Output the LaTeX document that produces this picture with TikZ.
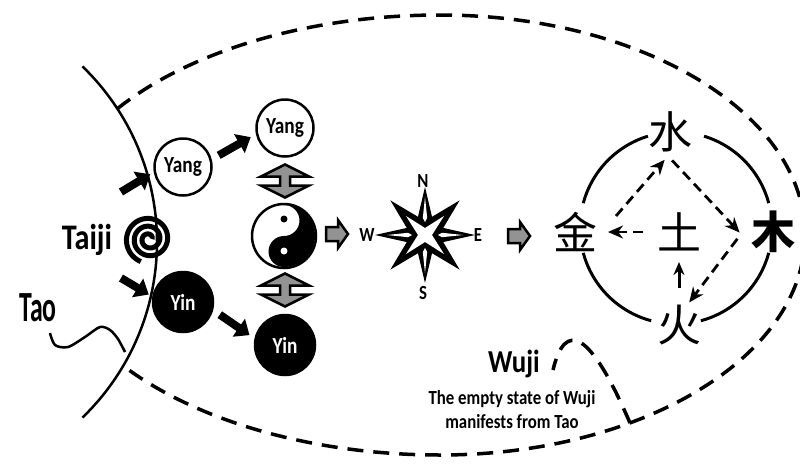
\documentclass[tikz,border=0pt]{standalone}
\usepackage{fontspec}
\usepackage{tikz}
\usetikzlibrary{arrows.meta,calc}
\newfontfamily\lbl{Carlito}[FakeStretch=0.84]
\newfontfamily\lblnarrow{Carlito}[FakeStretch=0.6]
\newfontfamily\cjk{Noto Sans CJK SC}

\begin{document}
\begin{tikzpicture}[x=1pt,y=1pt,
    yangnode/.style={circle,draw,line width=2.5pt,fill=white,minimum size=57pt,inner sep=0pt,
      font={\lbl\bfseries\fontsize{23}{23}\selectfont}},
    yinnode/.style={yangnode,fill=black,text=white,minimum size=60pt},
    thick arrow/.style={line width=8pt,-{Triangle[length=13pt,width=21pt]}},
    dashline/.style={line width=3.5pt,dash pattern=on 16pt off 10pt},
    elem/.style={font={\cjk\fontsize{44}{44}\selectfont},inner sep=0pt},
    eldash/.style={line width=2.8pt,dash pattern=on 10pt off 6pt,-{Stealth[length=15pt,width=13pt]}},
    dirlabel/.style={font={\lbl\bfseries\fontsize{20}{20}\selectfont},inner sep=0pt},
    greyarrow/.style={draw,line width=2.5pt,fill=gray!85,line join=miter},
    updown/.pic={\draw[greyarrow] (0,16.5) -- (24,4.5) -- (5,4.5) -- (5,-4.5) -- (24,-4.5)
      -- (0,-16.5) -- (-24,-4.5) -- (-5,-4.5) -- (-5,4.5) -- (-24,4.5) -- cycle;},
    rightarr/.pic={\draw[greyarrow] (-11,-7) -- (1,-7) -- (1,-14) -- (11,0) -- (1,14)
      -- (1,7) -- (-11,7) -- cycle;}]

\useasboundingbox (0,0) rectangle (800,-469);
\clip (0,0) rectangle (800,-469);
\fill[white] (0,0) rectangle (800,-469);

% Tao and the empty state of Wuji
\draw[line width=2.5pt] (-87,-242) ++(46:244) arc[start angle=46,end angle=-46,radius=244];
\coordinate (ec) at (440,-235);
\draw[dashline] (ec) ++(145:394 and 220) arc[start angle=145,end angle=90,x radius=394,y radius=220]
  arc[start angle=90,end angle=-90,x radius=365,y radius=220]
  arc[start angle=-90,end angle=-142,x radius=394,y radius=220];
\draw[dashline] (630,-423) .. controls (590,-330) and (565,-320) .. (553,-370);
\draw[line width=2.5pt] plot[smooth] coordinates {(50,-333) (55,-345) (68,-347) (85,-337)
  (100,-327) (110,-330) (118,-339) (125,-352)};
\node[font={\lblnarrow\bfseries\fontsize{43}{43}\selectfont},inner sep=0pt] (tao) at (38,-308) {Tao};
\node[font={\lbl\bfseries\fontsize{32}{32}\selectfont},inner sep=0pt] (wuji) at (514,-364) {Wuji};
\node[font={\lbl\bfseries\fontsize{20}{24}\selectfont},align=center,inner sep=0pt] (wujitxt)
  at (512,-410) {The empty state of Wuji\\manifests from Tao};

% Taiji
\node[font={\lbl\bfseries\fontsize{36}{36}\selectfont},inner sep=0pt] (taiji) at (87,-240) {Taiji};
\draw[line width=5pt] plot[domain=0:970,samples=240,variable=\t]
  ({149+(3+\t/360*7.8)*cos(\t)},{-239+(3+\t/360*7.8)*sin(\t)});

% Yang and Yin
\node[yangnode] (yang1) at (183,-167) {Yang};
\node[yangnode] (yang2) at (285,-128) {Yang};
\node[yinnode] (yin1) at (183,-302) {Yin};
\node[yinnode] (yin2) at (285,-345) {Yin};
\coordinate (a1) at (121,-192);
\coordinate (a2) at (121,-278);
\draw[thick arrow,shorten >=4pt] (a1) -- (yang1.190);
\draw[thick arrow,shorten >=4pt] (a2) -- (yin1.170);
\draw[thick arrow,shorten <=8pt,shorten >=6pt] (yang1.15) -- (yang2.192);
\draw[thick arrow,shorten <=8pt,shorten >=6pt] (yin1.-15) -- (yin2.168);

% yin-yang
\node[circle,draw,line width=2.5pt,minimum size=64pt,inner sep=0pt] (yy) at (284,-236) {};
\fill (yy.center) ++(0,31) arc[start angle=90,end angle=-90,radius=31]
  arc[start angle=-90,end angle=-270,radius=15.5]
  arc[start angle=-90,end angle=90,radius=15.5] -- cycle;
\fill (yy.center) ++(0,17) circle (3.5);
\fill[white] (yy.center) ++(0,-15) circle (3.5);
\pic at (285,-181) {updown};
\pic at (285,-290) {updown};
\pic at (337,-234) {rightarr};

% compass
\coordinate (cs) at (425,-235);
\fill[shift={(cs)}] (45:49) -- (90:14) -- (135:49) -- (180:14) -- (225:49) -- (270:14)
  -- (315:49) -- (0:14) -- cycle;
\foreach \a/\r in {0/50,90/48,180/50,270/48}
  \fill[shift={(cs)},rotate=\a] (\r,0) -- (14,8) -- (0,0) -- (14,-8) -- cycle;
\fill[white,shift={(cs)}] (45:27) -- (90:7) -- (135:27) -- (180:7) -- (225:27) -- (270:7)
  -- (315:27) -- (0:7) -- cycle;
\foreach \a in {0,90,180,270}
  \fill[white,shift={(cs)},rotate=\a] (38,0) -- (17,2.2) -- (13,0) -- (17,-2.2) -- cycle;
\node[dirlabel] (dirN) at (423,-181) {N};
\node[dirlabel] (dirS) at (423,-293) {S};
\node[dirlabel] (dirW) at (367,-235) {W};
\node[dirlabel] (dirE) at (478,-235) {E};
\pic at (519,-236) {rightarr};

% five elements
\coordinate (fc) at (676,-228);
\foreach \a/\b in {15/73,107/165,195/255,285/345}
  \draw[line width=3pt] (fc) ++(\a:96) arc[start angle=\a,end angle=\b,radius=96];
\node[elem] (shui) at (670,-132) {水};
\node[elem,font={\cjk\bfseries\fontsize{44}{44}\selectfont}] (mu) at (773,-232) {木};
\node[elem] (jin) at (575,-232) {金};
\node[elem] (huo) at (679,-325) {火};
\node[elem] (tu) at (679,-232) {土};
\coordinate (dT) at (668,-156);
\coordinate (dR) at (741,-234);
\coordinate (dB) at (688,-304);
\coordinate (dL) at (616,-216);
\draw[eldash,shorten >=5pt] (dL) -- (dT);
\draw[eldash,shorten <=6pt,shorten >=2pt] (dT) -- (dR);
\draw[eldash,shorten <=6pt,shorten >=2pt] (dR) -- (dB);
\draw[eldash,shorten <=36pt,shorten >=33pt] (tu.center) -- (jin.center);
\draw[line width=3pt,-{Stealth[length=13pt,width=11pt]},shorten <=37pt,shorten >=30pt]
  (huo.center) -- (tu.center);
\end{tikzpicture}
\end{document}
